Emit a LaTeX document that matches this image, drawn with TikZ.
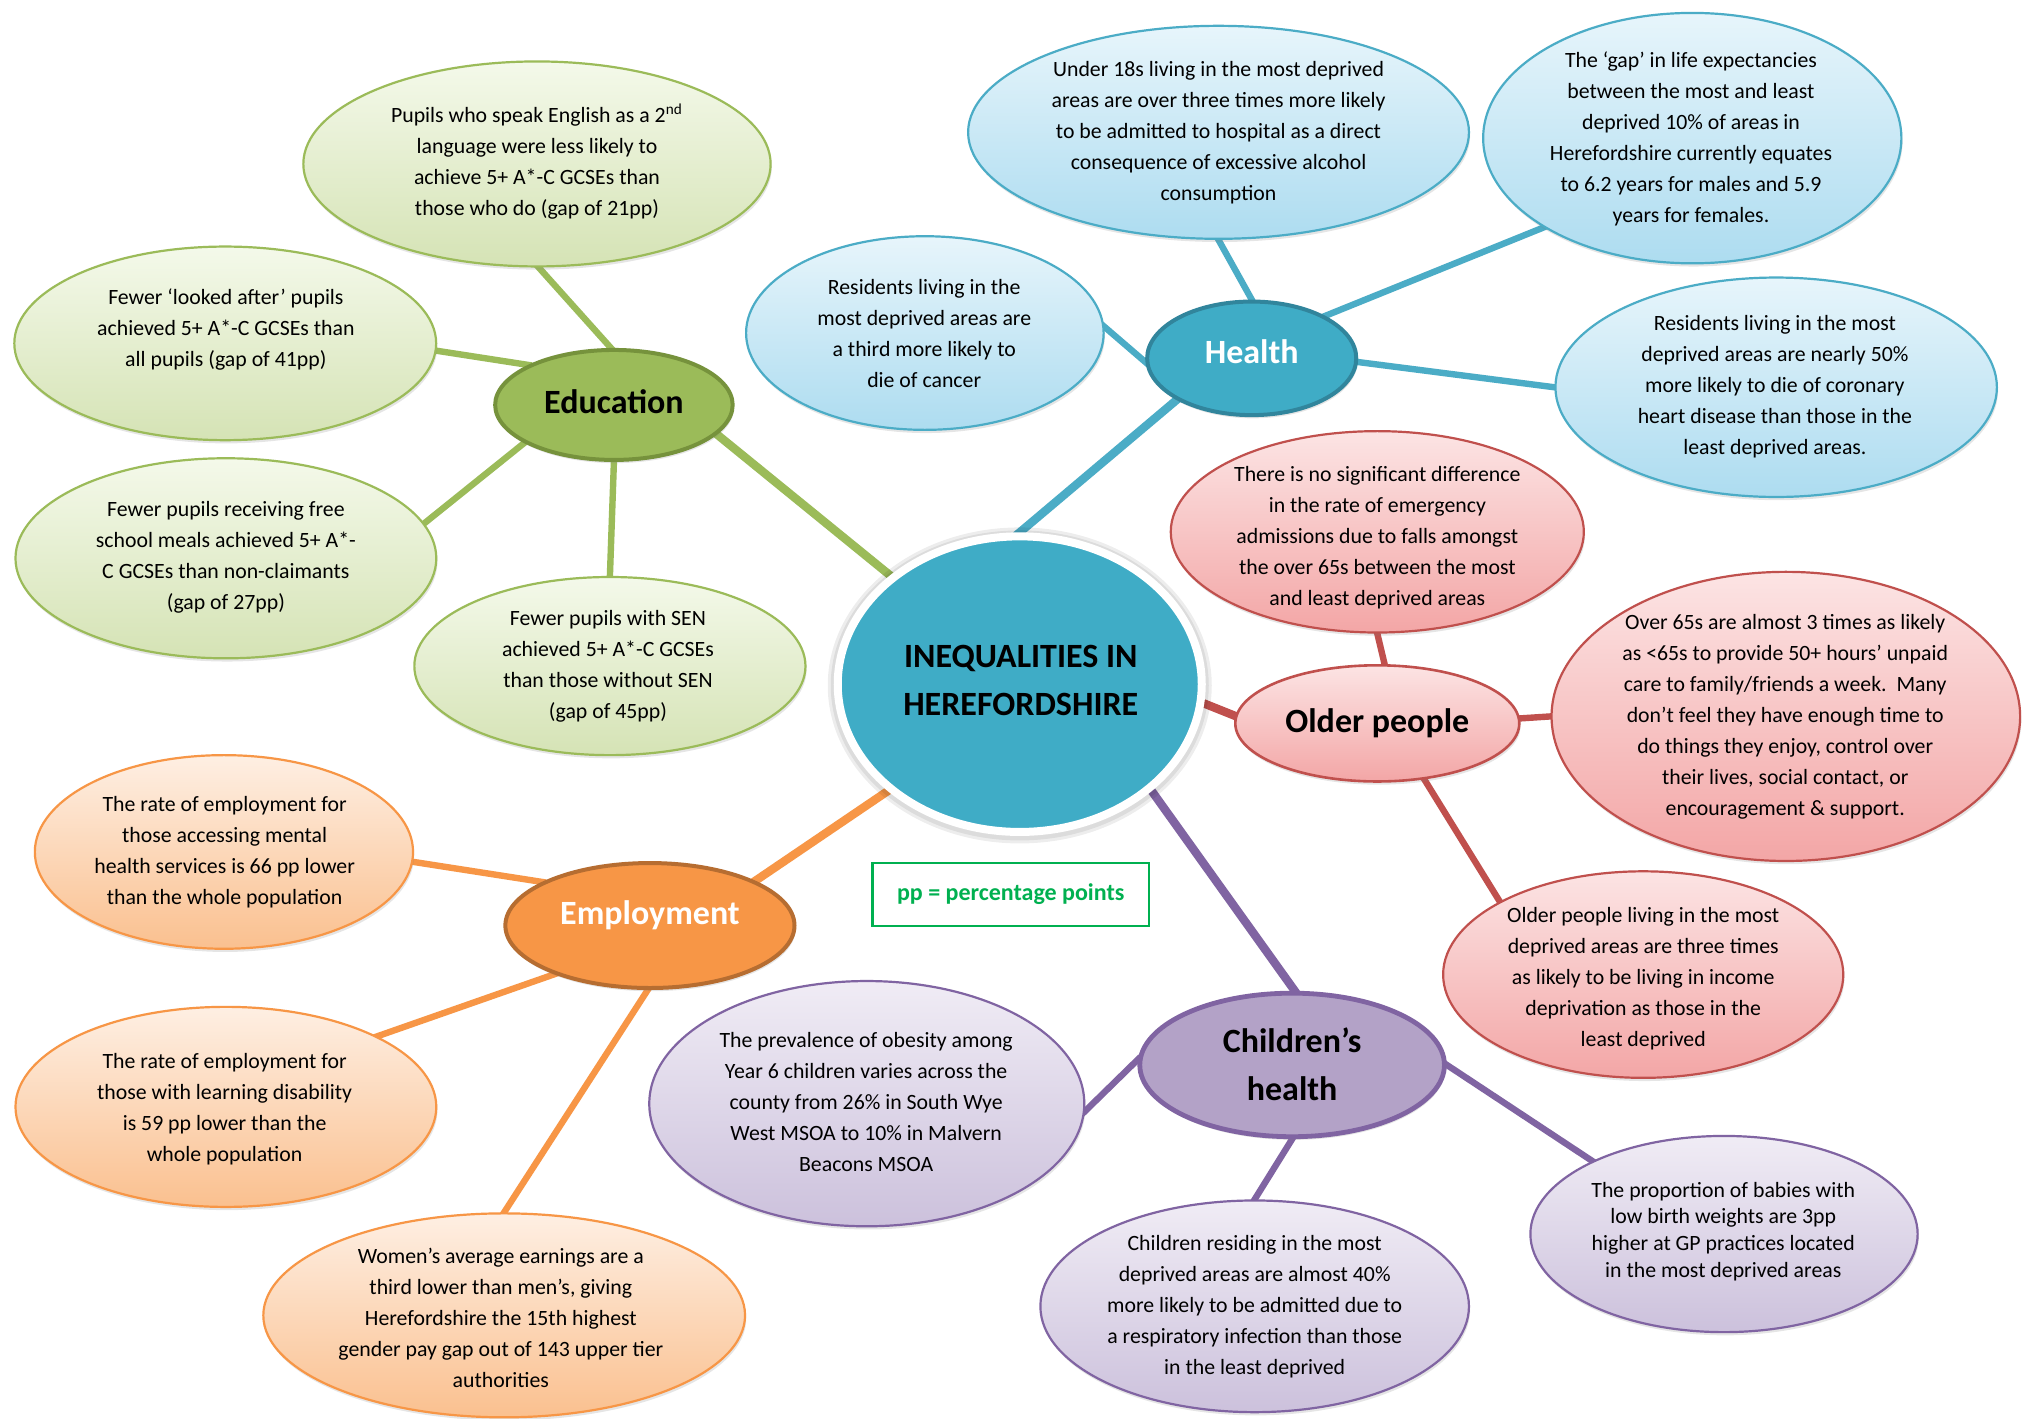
\documentclass[tikz,border=0pt]{standalone}
\usepackage{fontspec}
\setmainfont{Carlito}
\usetikzlibrary{shapes.geometric,shadows}
\pgfdeclarelayer{paper}
\pgfdeclarelayer{bg}
\pgfsetlayers{paper,bg,main}
\definecolor{gLine}{HTML}{9BBB59}
\definecolor{gDark}{HTML}{76923C}
\definecolor{gTop}{HTML}{F4F9EA}
\definecolor{gBot}{HTML}{D5E3B5}
\definecolor{bLine}{HTML}{4BACC6}
\definecolor{bDark}{HTML}{31859C}
\definecolor{bFill}{HTML}{3FACC6}
\definecolor{bTop}{HTML}{E7F5FB}
\definecolor{bBot}{HTML}{ADDCF0}
\definecolor{rLine}{HTML}{C0504D}
\definecolor{rTop}{HTML}{FCE4E4}
\definecolor{rBot}{HTML}{F3A6A6}
\definecolor{oLine}{HTML}{F79646}
\definecolor{oDark}{HTML}{B66D31}
\definecolor{oTop}{HTML}{FEEFE3}
\definecolor{oBot}{HTML}{FAC08F}
\definecolor{pLine}{HTML}{8064A2}
\definecolor{pFill}{HTML}{B3A2C7}
\definecolor{pTop}{HTML}{F0ECF5}
\definecolor{pBot}{HTML}{CCC1DC}
\definecolor{ppGreen}{HTML}{00B050}
\begin{document}
\begin{tikzpicture}[x=0.6454pt,y=-0.6454pt,
  sz/.style 2 args={minimum width={2*#1*0.6454pt}, minimum height={2*#2*0.6454pt}},
  shad/.style={drop shadow={opacity=0.2, shadow xshift=0.6pt, shadow yshift=-1.6pt}},
  bub/.style={ellipse, inner sep=0, line width=1.1pt, shad},
  bubG/.style={bub, draw=gLine, top color=gTop, bottom color=gBot},
  bubB/.style={bub, draw=bLine, top color=bTop, bottom color=bBot},
  bubR/.style={bub, draw=rLine, top color=rTop, bottom color=rBot},
  bubO/.style={bub, draw=oLine, top color=oTop, bottom color=oBot},
  bubP/.style={bub, draw=pLine, top color=pTop, bottom color=pBot},
  cat/.style={ellipse, inner sep=0, line width=2pt, shad},
  txt/.style={font=\fontsize{10.9}{15.5}\selectfont, align=center, inner sep=0},
  cattxt/.style={font=\fontsize{17}{24}\selectfont\bfseries, align=center, inner sep=0},
  conM/.style={line width=4.2pt, shorten <=-3pt, shorten >=-3pt},
  conL/.style={line width=3.2pt, shorten <=-2pt, shorten >=-2pt}
]
\begin{pgfonlayer}{paper}
\fill[white] (0,0) rectangle (1568,1099);
\end{pgfonlayer}
\useasboundingbox (0,0) rectangle (1568,1099);

% central
\fill[black, opacity=0.07] (790,531) ellipse [x radius=96pt, y radius=79pt];
\fill[black, opacity=0.07] (790,531) ellipse [x radius=94.5pt, y radius=77.5pt];
\node[ellipse, inner sep=0, sz={141}{114.5}, fill=bFill, draw=white, line width=4pt] (cen) at (790,530) {};
\node[cattxt] (cent) at (790.8,527.5) {INEQUALITIES IN\\HEREFORDSHIRE};

% categories
\node[cat, sz={92}{42.6}, fill=gLine, draw=gDark] (edu) at (475.6,313.7) {};
\node[cattxt] (edut) at (475.6,311) {Education};
\node[cat, sz={81}{44}, fill=bFill, draw=bDark] (hea) at (969.7,277.6) {};
\node[cattxt, text=white] (heat) at (969.7,272.5) {Health};
\node[cat, line width=1.3pt, sz={110}{45}, draw=rLine, top color=rTop, bottom color=rBot] (old) at (1067,560.4) {};
\node[cattxt] (oldt) at (1067,560.4) {Older people};
\node[cat, line width=2.4pt, sz={118}{55.6}, fill=pFill, draw=pLine] (chi) at (1001,825) {};
\node[cattxt] (chit) at (1001,824.4) {Children’s\\health};
\node[cat, sz={112}{48.4}, fill=oLine, draw=oDark] (emp) at (503.5,717) {};
\node[cattxt, text=white] (empt) at (503.5,709) {Employment};

% pp box
\node[draw=ppGreen, line width=1.2pt, minimum width={214*0.6454pt}, minimum height={49*0.6454pt}, inner sep=0, text=ppGreen, font=\fontsize{12}{14}\selectfont\bfseries] (pp) at (783,693) {pp = percentage points};

% education leaves
\node[bubG, sz={181}{79.4}] (e1) at (416,127) {};
\node[txt] (e1t) at (416,125) {Pupils who speak English as a 2\textsuperscript{nd}\\language were less likely to\\achieve 5+ A*-C GCSEs than\\those who do (gap of 21pp)};
\node[bubG, sz={163.4}{75}] (e2) at (174.5,266) {};
\node[txt] (e2t) at (175,255) {Fewer ‘looked after’ pupils\\achieved 5+ A*-C GCSEs than\\all pupils (gap of 41pp)};
\node[bubG, sz={163}{77.5}] (e3) at (175,432.5) {};
\node[txt] (e3t) at (175,431.5) {Fewer pupils receiving free\\school meals achieved 5+ A*-\\C GCSEs than non-claimants\\(gap of 27pp)};
\node[bubG, sz={151.5}{69}] (e4) at (472.5,516) {};
\node[txt] (e4t) at (471,516.5) {Fewer pupils with SEN\\achieved 5+ A*-C GCSEs\\than those without SEN\\(gap of 45pp)};

% health leaves
\node[bubB, sz={138.5}{75}] (h1) at (716.5,258) {};
\node[txt] (h1t) at (716,258) {Residents living in the\\most deprived areas are\\a third more likely to\\die of cancer};
\node[bubB, sz={194}{82.5}] (h2) at (944,102.5) {};
\node[txt] (h2t) at (944,102.6) {Under 18s living in the most deprived\\areas are over three times more likely\\to be admitted to hospital as a direct\\consequence of excessive alcohol\\consumption};
\node[bubB, sz={162}{97}] (h3) at (1311,107) {};
\node[txt] (h3t) at (1310,107.5) {The ‘gap’ in life expectancies\\between the most and least\\deprived 10\% of areas in\\Herefordshire currently equates\\to 6.2 years for males and 5.9\\years for females.};
\node[bubB, sz={171}{85}] (h4) at (1376,300) {};
\node[txt] (h4t) at (1375,299.6) {Residents living in the most\\deprived areas are nearly 50\%\\more likely to die of coronary\\heart disease than those in the\\least deprived areas.};

% older leaves
\node[bubR, sz={160}{78}] (o1) at (1067,412) {};
\node[txt] (o1t) at (1067,416.5) {There is no significant difference\\in the rate of emergency\\admissions due to falls amongst\\the over 65s between the most\\and least deprived areas};
\node[bubR, sz={181.5}{112}] (o2) at (1383.5,555) {};
\node[txt] (o2t) at (1383,555.5) {Over 65s are almost 3 times as likely\\as <65s to provide 50+ hours’ unpaid\\care to family/friends a week.\ \ Many\\don’t feel they have enough time to\\do things they enjoy, control over\\their lives, social contact, or\\encouragement \& support.};
\node[bubR, sz={155}{80}] (o3) at (1273,755) {};
\node[txt] (o3t) at (1273,758) {Older people living in the most\\deprived areas are three times\\as likely to be living in income\\deprivation as those in the\\least deprived};

% employment leaves
\node[bubO, sz={146.5}{75}] (m1) at (173.5,660) {};
\node[txt] (m1t) at (174,660.5) {The rate of employment for\\those accessing mental\\health services is 66 pp lower\\than the whole population};
\node[bubO, sz={163}{77.5}] (m2) at (175,857.5) {};
\node[txt] (m2t) at (174,859.5) {The rate of employment for\\those with learning disability\\is 59 pp lower than the\\whole population};
\node[bubO, sz={186.6}{79}] (m3) at (390.6,1019) {};
\node[txt] (m3t) at (388,1021) {Women’s average earnings are a\\third lower than men’s, giving\\Herefordshire the 15th highest\\gender pay gap out of 143 upper tier\\authorities};

% children leaves
\node[bubP, sz={168.5}{95}] (c1) at (671.5,855) {};
\node[txt] (c1t) at (671,854) {The prevalence of obesity among\\Year 6 children varies across the\\county from 26\% in South Wye\\West MSOA to 10\% in Malvern\\Beacons MSOA};
\node[bubP, sz={166}{82}] (c2) at (972,1012) {};
\node[txt] (c2t) at (972,1012.4) {Children residing in the most\\deprived areas are almost 40\%\\more likely to be admitted due to\\a respiratory infection than those\\in the least deprived};
\node[bubP, sz={150}{76}] (c3) at (1335.6,956) {};
\node[txt, font=\fontsize{10.9}{13.4}\selectfont] (c3t) at (1335,954) {The proportion of babies with\\low birth weights are 3pp\\higher at GP practices located\\in the most deprived areas};

% connectors
\begin{pgfonlayer}{bg}
\draw[conM, draw=gLine] (cen.140) -- (edu.-16);
\draw[conM, draw=bLine] (cen.90) -- (hea.209);
\draw[conM, draw=rLine] (cen.-6) -- (old.177);
\draw[conM, draw=pLine] (cen.-39) -- (chi.88);
\draw[conM, draw=oLine] (cen.219) -- (emp.23);

\draw[conL, draw=gLine] (edu.93) -- (e1.271);
\draw[conL, draw=gLine] (edu.155) -- (e2.-2);
\draw[conL, draw=gLine] (edu.203) -- (e3.10);
\draw[conL, draw=gLine] (edu.270) -- (e4.90);

\draw[conL, draw=bLine] (hea.182) -- (h1.2);
\draw[conL, draw=bLine] (hea.90) -- (h2.270);
\draw[conL, draw=bLine] (hea.30) -- (h3.211.5);
\draw[conL, draw=bLine] (hea.-2.5) -- (h4.180);

\draw[conL, draw=rLine] (old.83) -- (o1.270);
\draw[conL, draw=rLine] (old.2) -- (o2.180);
\draw[conL, draw=rLine] (old.-50) -- (o3.153.4);

\draw[conL, draw=oLine] (emp.158) -- (m1.-3);
\draw[conL, draw=oLine] (emp.207) -- (m2.25.4);
\draw[conL, draw=oLine] (emp.268) -- (m3.90);

\draw[conL, draw=pLine] (chi.178) -- (c1.-2);
\draw[conL, draw=pLine] (chi.270) -- (c2.90);
\draw[conL, draw=pLine] (chi.0) -- (c3.151.2);
\end{pgfonlayer}
\end{tikzpicture}
\end{document}
